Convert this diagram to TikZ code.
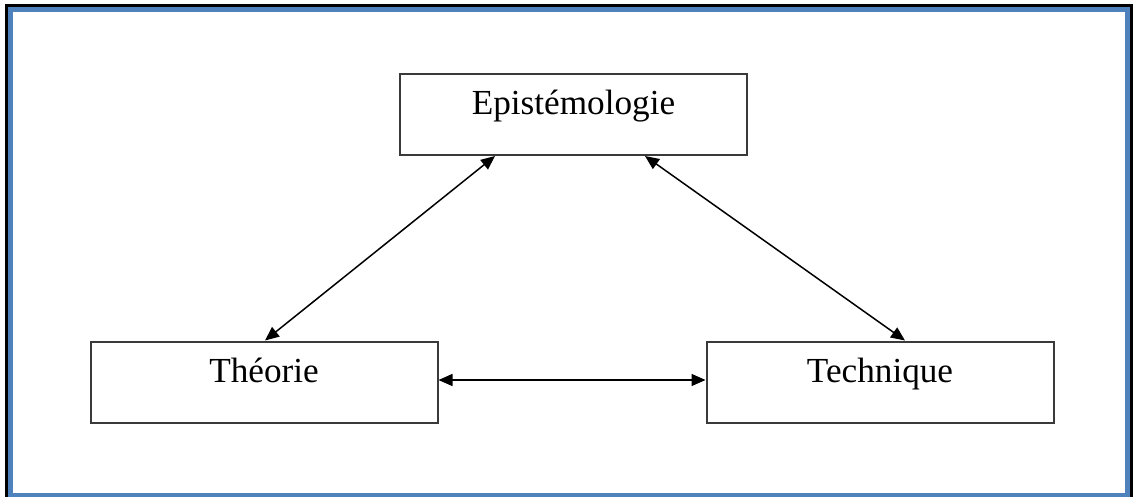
\documentclass[tikz,border=0pt]{standalone}
\usepackage{fontspec}
\setmainfont{Liberation Serif}
\usepackage{tikz}
\definecolor{framebleu}{HTML}{4F81BD}
\definecolor{boxgris}{HTML}{3A3A3A}
\usetikzlibrary{positioning, arrows.meta}
\tikzstyle{arrow} = [<->, line width=0.75pt, >={Triangle[length=7pt,width=6pt]}]

\begin{document}
\begin{tikzpicture}[x=0.5pt, y=-0.5pt]
                    \tikzstyle{every node}=[font=\fontsize{17.6}{20}\selectfont]
                    \tikzstyle{concept} = [rectangle, draw=boxgris, line width=1pt, inner sep=0pt, minimum width=173.5pt, text height=20.5pt, text depth=20pt, align=center]

                    % cadre
                    \useasboundingbox (0,0) rectangle (1133,497);
                    \draw[black, line width=1.5pt] (6,6) rectangle (1131.5,505);
                    \draw[framebleu, line width=2.5pt] (10,10) rectangle (1127,495);

                    \node[concept](epi) at (573.5,114.5) {Epistémologie};
                    \node[concept](theo) at (264,382) {Théorie};
                    \node[concept](tech) at (880,382) {Technique};

                    \draw[arrow] ([xshift=-39.25pt]epi.south) -- ([xshift=0.5pt]theo.north);
                    \draw[arrow] ([xshift=35.75pt]epi.south) -- ([xshift=12.5pt]tech.north);
                    \draw[arrow] ([yshift=1pt]theo.east) -- ([yshift=1pt]tech.west);
            \end{tikzpicture}
\end{document}
